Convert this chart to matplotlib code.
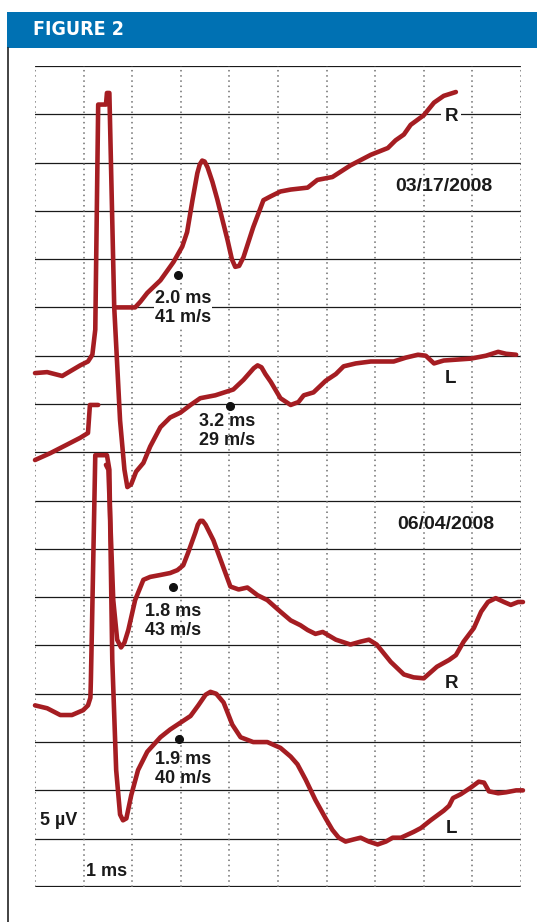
import matplotlib.pyplot as plt
from matplotlib.patches import Rectangle
from matplotlib.lines import Line2D
from matplotlib import rcParams, font_manager

rcParams['font.family'] = ['Liberation Sans', 'DejaVu Sans']

# time axis in ms, amplitude in uV (5 uV per division, 1 ms per division)
# R, 03/17/2008
r1_t = [1.67, 2.06, 2.17, 2.31, 2.58, 2.85, 3.03, 3.13, 3.24, 3.34, 3.39, 3.44, 3.49, 3.55,
        3.65, 3.75, 3.96, 4.05, 4.12, 4.20, 4.29, 4.49, 4.70, 4.85, 5.05, 5.26, 5.61, 5.81,
        6.12, 6.49, 6.91, 7.26, 7.42, 7.59, 7.73, 8.00, 8.21, 8.41, 8.66]
r1_v = [60.0, 60.0, 60.6, 61.5, 62.8, 64.7, 66.3, 67.8, 71.1, 73.9, 74.8, 75.2, 75.1, 74.5,
        73.0, 71.2, 67.0, 65.0, 64.2, 64.3, 65.2, 68.3, 71.1, 71.5, 72.0, 72.2, 72.4, 73.2,
        73.5, 74.7, 75.8, 76.5, 77.3, 77.9, 78.9, 79.9, 81.2, 81.9, 82.3]
# pre-stimulus segment
r1_pre_t = [0.0, 0.31, 0.66, 0.93, 1.09, 1.13, 1.30]
r1_pre_v = [44.2, 44.9, 45.8, 46.5, 47.0, 49.9, 49.9]

# L, 03/17/2008
l1_t = [0.0, 0.25, 0.56, 0.93, 1.09, 1.18, 1.24, 1.30, 1.46, 1.48, 1.53, 1.63, 1.75, 1.84,
        1.90, 1.98, 2.08, 2.23, 2.37, 2.58, 2.78, 2.99, 3.20, 3.40, 3.71, 4.08, 4.29, 4.50,
        4.58, 4.66, 4.74, 4.85, 5.05, 5.26, 5.42, 5.53, 5.73, 5.98, 6.19, 6.35, 6.60, 6.91,
        7.38, 7.63, 7.88, 8.04, 8.21, 8.41, 8.97, 9.28, 9.53, 9.69, 9.90]
l1_v = [53.2, 53.3, 52.9, 54.0, 54.4, 55.1, 57.7, 81.0, 81.0, 82.2, 82.2, 60.0, 48.3, 43.2,
        41.4, 41.7, 43.0, 43.9, 45.6, 47.6, 48.6, 49.1, 49.9, 50.6, 50.9, 51.5, 52.5, 53.7,
        54.0, 53.8, 53.1, 52.3, 50.6, 49.9, 50.2, 50.9, 51.2, 52.4, 53.1, 53.9, 54.2, 54.4,
        54.4, 54.8, 55.1, 55.0, 54.2, 54.5, 54.7, 55.0, 55.4, 55.2, 55.1]

# R, 06/04/2008
r2_t = [1.46, 1.51, 1.61, 1.69, 1.77, 1.84, 1.92, 2.06, 2.23, 2.37, 2.58, 2.78, 2.93, 3.05,
        3.15, 3.30, 3.35, 3.40, 3.45, 3.51, 3.67, 3.86, 4.02, 4.19, 4.37, 4.58, 4.78, 5.05,
        5.26, 5.46, 5.61, 5.77, 5.92, 6.19, 6.49, 6.70, 6.87, 7.03, 7.32, 7.59, 7.79, 8.00,
        8.27, 8.52, 8.66, 8.82, 9.03, 9.18, 9.32, 9.48, 9.65, 9.79, 9.94, 10.04]
r2_v = [43.7, 43.2, 29.7, 25.6, 24.8, 25.3, 26.6, 29.7, 31.8, 32.1, 32.3, 32.5, 32.8, 33.3,
        34.6, 36.7, 37.5, 37.9, 37.9, 37.5, 35.9, 33.3, 31.1, 30.8, 31.0, 30.2, 29.7, 28.5,
        27.6, 27.1, 26.6, 26.2, 26.4, 25.6, 25.1, 25.4, 25.6, 25.1, 23.3, 22.0, 21.7, 21.6,
        22.8, 23.5, 24.0, 25.4, 26.8, 28.5, 29.5, 29.9, 29.5, 29.2, 29.5, 29.5]

# L, 06/04/2008
l2_t = [0.0, 0.25, 0.52, 0.76, 0.99, 1.09, 1.14, 1.15, 1.17, 1.24, 1.48, 1.53, 1.59, 1.67,
        1.75, 1.81, 1.88, 1.98, 2.12, 2.31, 2.58, 2.78, 2.99, 3.20, 3.36, 3.51, 3.61, 3.73,
        3.88, 4.06, 4.23, 4.49, 4.78, 5.05, 5.26, 5.40, 5.57, 5.77, 5.98, 6.12, 6.25, 6.39,
        6.54, 6.70, 6.87, 7.05, 7.22, 7.36, 7.53, 7.79, 7.94, 8.14, 8.41, 8.52, 8.60, 8.76,
        8.97, 9.13, 9.24, 9.34, 9.53, 9.69, 9.90, 10.04]
l2_v = [18.8, 18.5, 17.8, 17.8, 18.3, 18.8, 19.6, 21.5, 26.4, 44.7, 44.7, 43.2, 23.5, 12.1,
        7.5, 6.9, 7.1, 9.5, 12.1, 14.0, 15.5, 16.3, 17.0, 17.7, 18.8, 19.9, 20.2, 20.0,
        19.1, 16.8, 15.5, 15.0, 15.0, 14.4, 13.5, 12.7, 11.1, 9.0, 7.1, 5.9, 5.1, 4.7,
        4.9, 5.1, 4.7, 4.4, 4.7, 5.1, 5.1, 5.7, 6.1, 6.9, 7.9, 8.4, 9.2, 9.6,
        10.3, 10.9, 10.8, 9.9, 9.7, 9.8, 10.0, 10.0]

# latency markers
dot_t = [2.95, 4.02, 2.84, 2.97]
dot_v = [63.4, 49.8, 31.1, 15.3]
lat_text = ['2.0 ms\n41 m/s', '3.2 ms\n29 m/s', '1.8 ms\n43 m/s', '1.9 ms\n40 m/s']
lat_pos = [(3.05, 59.9), (3.95, 47.2), (2.85, 27.5), (3.05, 12.2)]

red = '#a51d22'
ink = '#1a1a1a'

# look for a condensed bold face for the header, else plain bold
head_font = None
for f in font_manager.fontManager.ttflist:
    fn = f.fname.replace(' ', '').lower()
    if ('narrow' in fn or 'condensed' in fn) and 'bold' in fn and 'italic' not in fn \
            and 'oblique' not in fn and 'mono' not in fn and 'serif' not in fn.replace('sans', ''):
        head_font = font_manager.FontProperties(fname=f.fname, size=14)
        break
if head_font is None:
    head_font = font_manager.FontProperties(family='Liberation Sans', weight='bold', size=13.5)

fig = plt.figure(figsize=(5.37, 9.22), dpi=100)

# header bar
fig.patches.append(Rectangle((0.013, 0.948), 0.987, 0.039, transform=fig.transFigure,
                             facecolor='#0071b3', edgecolor='none'))
fig.text(0.0615, 0.9675, 'FIGURE 2', color='white', fontproperties=head_font,
         va='center', ha='left')
fig.lines.append(Line2D([0.0149, 0.0149], [0, 0.948], transform=fig.transFigure,
                        color='#222222', lw=1.2))

ax = fig.add_axes([0.0652, 0.038, 0.905, 0.8905])
ax.set_xlim(0, 10)
ax.set_ylim(0, 85)
ax.axis('off')

# grid: solid horizontal, dotted vertical
for k in range(18):
    ax.axhline(k * 5, color=ink, lw=1.6 if k in (0, 17) else 0.9, zorder=1)
for k in range(11):
    ax.axvline(k, color='#6e6e6e', lw=1.1, linestyle=(0, (1, 2.4)), zorder=1)

kw = dict(color=red, lw=3.3, solid_joinstyle='round', solid_capstyle='round',
          zorder=4, clip_on=False)
ax.plot(r1_pre_t, r1_pre_v, **kw)
ax.plot(l1_t, l1_v, **kw)
ax.plot(r2_t, r2_v, **kw)
ax.plot(l2_t, l2_v, **kw)
ax.plot(r1_t, r1_v, **kw)

ax.plot(dot_t, dot_v, 'o', color='#111111', ms=5.5, zorder=5, linestyle='none')

for i, (txt, (x, y)) in enumerate(zip(lat_text, lat_pos)):
    ax.text(x, y, txt, ha='center', va='center', fontsize=13, fontweight='bold',
            color=ink, linespacing=1.15, zorder=3,
            bbox=dict(facecolor='white', edgecolor='none', pad=0.5) if i == 0 else None)

lab = dict(ha='center', va='center', fontweight='bold', color=ink, zorder=3)
ax.text(8.56, 79.8, 'R', fontsize=13.5, bbox=dict(facecolor='white', edgecolor='none', pad=2), **lab)
ax.text(8.54, 52.6, 'L', fontsize=13.5, **lab)
ax.text(8.56, 21.1, 'R', fontsize=13.5, **lab)
ax.text(8.56, 6.1, 'L', fontsize=13.5, **lab)
ax.text(8.42, 72.5, '03/17/2008', fontsize=14, **lab)
ax.text(8.45, 37.5, '06/04/2008', fontsize=14, **lab)
ax.text(0.49, 6.9, '5 µV', fontsize=13, **lab)
ax.text(1.47, 1.6, '1 ms', fontsize=13, **lab)

plt.savefig('out.png', dpi=100)
